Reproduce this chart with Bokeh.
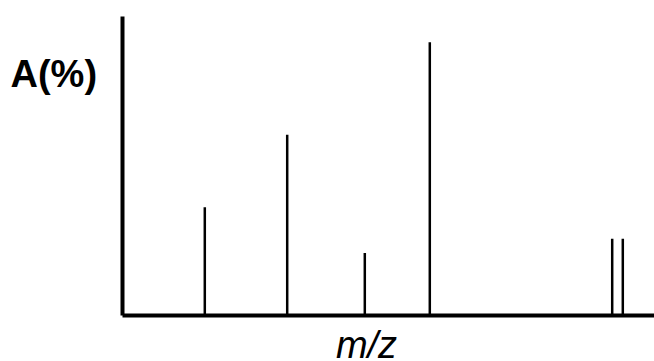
from bokeh.plotting import figure
from bokeh.models import Range1d, Label, FixedTicker, ColumnDataSource
from bokeh.embed import file_html
from bokeh.resources import INLINE

# Peak positions (arbitrary m/z units, unlabeled axis) and relative abundances (%)
mz = [82.3, 164.7, 242.3, 307.3, 489.7, 500.3]
abundance = [39.6, 66.1, 22.9, 100.0, 28.1, 28.1]
base = [0, 0, 0, 0, 0, 0]

x_label = "m/z"
y_label = "A(%)"

X_MAX = 532      # right end of the m/z axis
Y_MAX = 109.4    # top end of the abundance axis

src = ColumnDataSource(data=dict(mz=mz, a=abundance, b=base))

p = figure(width=654, height=361, output_backend="svg", toolbar_location=None,
           title=None,
           x_range=Range1d(-122, X_MAX), y_range=Range1d(-16.83, 115.26),
           min_border_left=0, min_border_right=0, min_border_top=0,
           min_border_bottom=0)
p.outline_line_color = None
p.grid.visible = False
p.background_fill_color = "white"
p.border_fill_color = "white"

xa, ya = p.xaxis[0], p.yaxis[0]
xa.fixed_location = 0
ya.fixed_location = 0
xa.bounds = (0, X_MAX)
ya.bounds = (0, Y_MAX)
for ax in (xa, ya):
    ax.ticker = FixedTicker(ticks=[])
    ax.axis_line_width = 4
    ax.axis_line_color = "black"
    ax.major_tick_line_color = None
    ax.minor_tick_line_color = None
    ax.major_label_text_font_size = "0px"

p.segment(x0="mz", y0="b", x1="mz", y1="a", source=src,
          line_color="black", line_width=2.5)

p.add_layout(Label(x=-112, y=88.2,
                   text=y_label, text_font="Liberation Sans",
                   text_font_style="bold", text_font_size="38px",
                   text_color="black", text_align="left",
                   text_baseline="alphabetic"))
p.add_layout(Label(x=244, y=-10.8,
                   text=x_label, text_font="Liberation Sans",
                   text_font_style="italic", text_font_size="38px",
                   text_color="black", text_align="center",
                   text_baseline="alphabetic"))

open("out.html", "w").write(file_html(p, INLINE))
